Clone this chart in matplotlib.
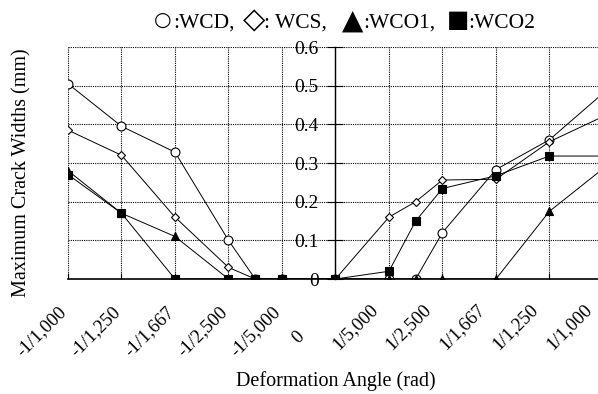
import matplotlib
matplotlib.use("Agg")
import matplotlib.pyplot as plt
from matplotlib.transforms import ScaledTranslation

# Deformation angle (rad) and maximum crack widths (mm) per specimen
angle = [-0.001, -0.0008, -0.0006, -0.0004, -0.0003, -0.0002, 0.0,
         0.0002, 0.0003, 0.0004, 0.0006, 0.0008, 0.001]
wcd = [0.505, 0.395, 0.328, 0.10, 0, 0, 0, 0, 0, 0.12, 0.283, 0.36, 0.48]
wcs = [0.385, 0.32, 0.16, 0.03, 0, 0, 0, 0.16, 0.20, 0.256, 0.258, 0.355, 0.42]
wco1 = [0.28, 0.17, 0.11, 0, 0, 0, 0, 0, 0, 0, 0, 0.175, 0.285]
wco2 = [0.27, 0.17, 0, 0, 0, 0, 0, 0.02, 0.15, 0.234, 0.267, 0.318, 0.318]

x_ticks = [-0.001, -0.0008, -0.0006, -0.0004, -0.0002, 0.0,
           0.0002, 0.0004, 0.0006, 0.0008, 0.001]
x_labels = ["-1/1,000", "-1/1,250", "-1/1,667", "-1/2,500", "-1/5,000", "0",
            "1/5,000", "1/2,500", "1/1,667", "1/1,250", "1/1,000"]
y_ticks = [0, 0.1, 0.2, 0.3, 0.4, 0.5, 0.6]
y_labels = ["0", "0.1", "0.2", "0.3", "0.4", "0.5", "0.6"]

# key entries: (symbol, caption)
key_items = [("○", ":WCD,"), ("◇", ": WCS,"), ("▲", ":WCO1,"), ("■", ":WCO2")]

SERIF = ["Liberation Serif", "DejaVu Sans"]
plt.rcParams["font.family"] = SERIF

W, H = 598, 394
fig = plt.figure(figsize=(W / 100, H / 100), dpi=100)
ax = fig.add_axes([68 / W, (H - 279) / H, (602.9 - 68) / W, (279 - 47) / H])

line_kw = dict(color="black", linewidth=0.7, markeredgecolor="black",
               markeredgewidth=0.8)
ax.plot(angle, wcd, marker="o", markersize=6.4, markerfacecolor="white", **line_kw)
ax.plot(angle, wcs, marker="D", markersize=4.3, markerfacecolor="white", **line_kw)
ax.plot(angle, wco1, marker="^", markersize=6, markerfacecolor="black", **line_kw)
ax.plot(angle, wco2, marker="s", markersize=5.2, markerfacecolor="black", **line_kw)

ax.set_xlim(-0.001, 0.001)
ax.set_ylim(0, 0.6)
ax.set_xticks(x_ticks)
ax.set_yticks(y_ticks)
ax.set_yticklabels(y_labels)
ax.tick_params(axis="x", direction="in", length=4, width=0.8, labelbottom=False)
ax.tick_params(axis="y", direction="inout", length=12, width=0.8, pad=6,
               labelsize=14)

ax.set_axisbelow(True)
ax.grid(True, color="black", linestyle=(0, (1, 1)), linewidth=0.8)

for side in ("top", "right"):
    ax.spines[side].set_visible(False)
ax.spines["left"].set_position(("data", 0))
ax.spines["left"].set_linewidth(1.0)
ax.spines["bottom"].set_linewidth(1.2)

# rotated angle labels below the axis
base = ax.get_xaxis_transform()
for pos, lab in zip(x_ticks, x_labels):
    if pos < 0:
        dx, dy = -10, -24
    elif pos == 0:
        dx, dy = -40, -49
    else:
        dx, dy = -20, -22
    off = ScaledTranslation(dx / 100, dy / 100, fig.dpi_scale_trans)
    ax.text(pos, 0, lab, transform=base + off, rotation=45, ha="right",
            va="top", rotation_mode="anchor", fontsize=13.5, clip_on=False)

fig.text(336 / W, 1 - 381 / H, "Deformation Angle (rad)", ha="center",
         va="center", fontsize=14.5)
fig.text(22 / W, 1 - 173 / H, "Maximum Crack Widths (mm)", ha="center",
         va="center", rotation=90, fontsize=14.5)

# key line at the top: symbol glyphs followed by captions
sym_x = [162.5, 254, 352.5, 458.5]
sym_size = [14.5, 21, 20, 17]
cap_x = [173, 264, 363, 468]
for (sym, cap), sx, ss, cx in zip(key_items, sym_x, sym_size, cap_x):
    fig.text(sx / W, 1 - 20.5 / H, sym, ha="center", va="center",
             fontsize=ss, family="DejaVu Sans")
    fig.text(cx / W, 1 - 28 / H, cap, ha="left", va="baseline", fontsize=15.5)

fig.savefig("out.png", dpi=100, facecolor="white")
